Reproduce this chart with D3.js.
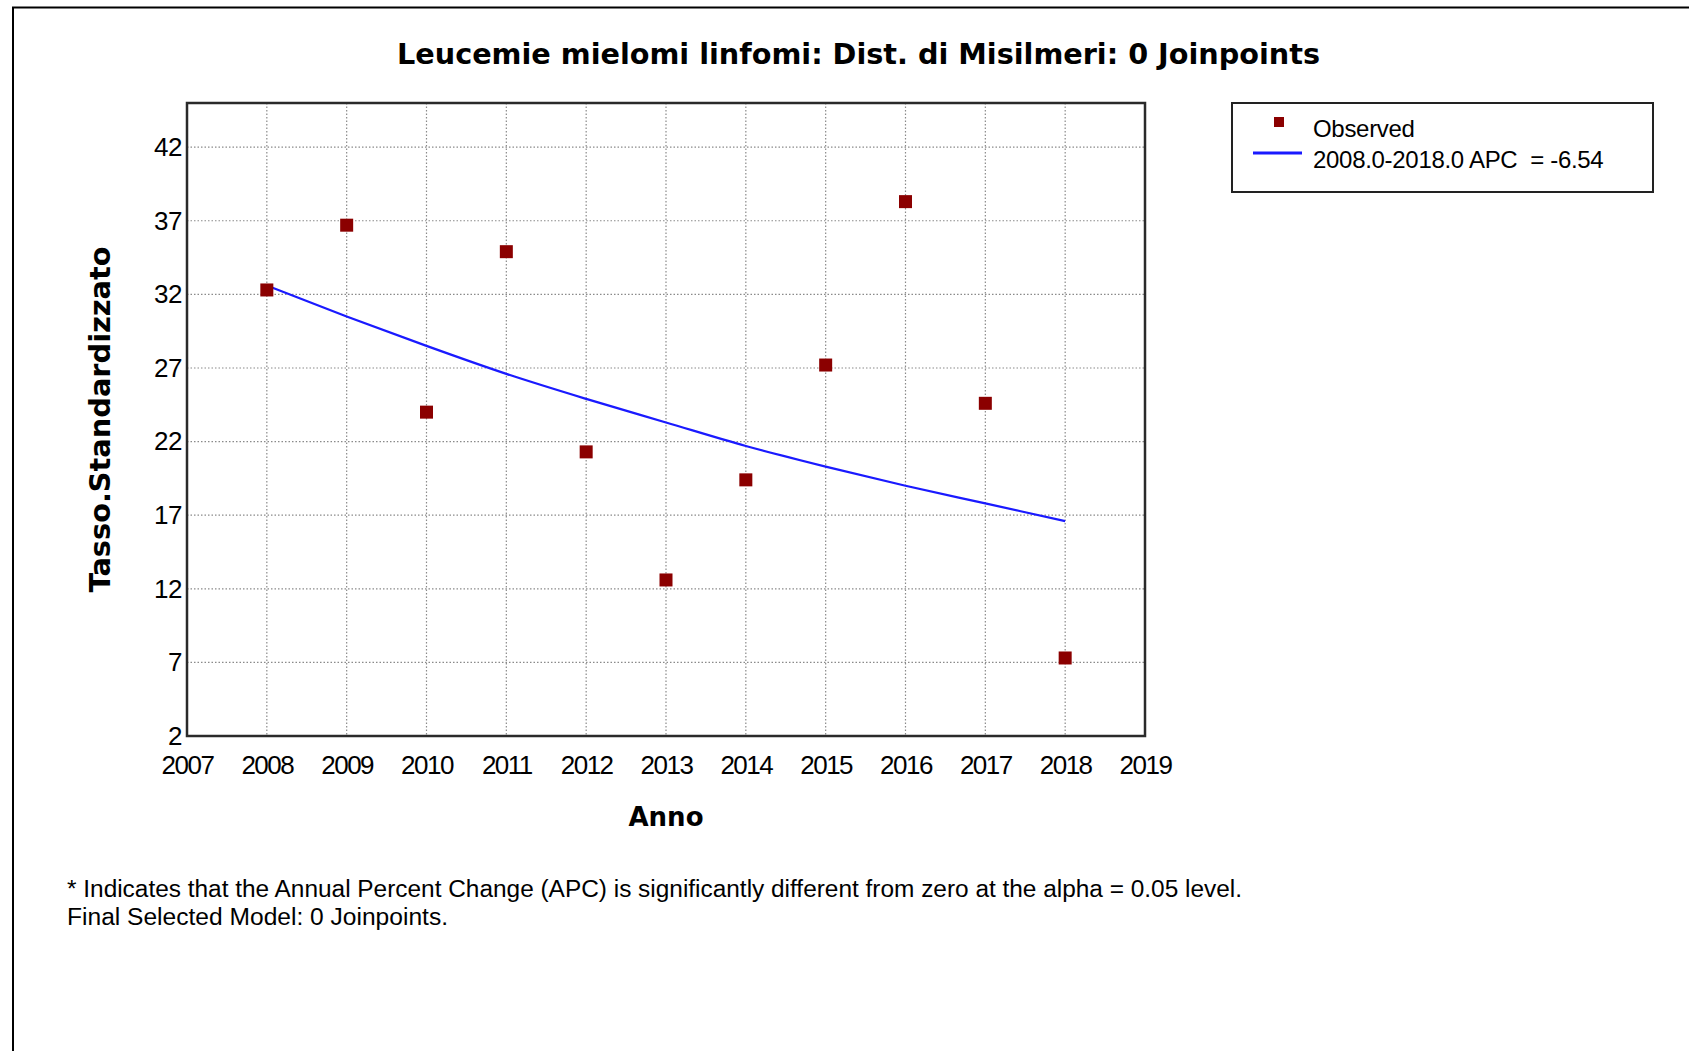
<!DOCTYPE html>
<html>
<head>
<meta charset="utf-8">
<script src="https://cdn.jsdelivr.net/npm/d3@7"></script>
<style>
  html, body { margin: 0; padding: 0; background: #fff; }
  svg { display: block; }
</style>
</head>
<body>
<svg id="chart" width="1689" height="1051"></svg>
<script>
// ---- Data ----
const years = [2008, 2009, 2010, 2011, 2012, 2013, 2014, 2015, 2016, 2017, 2018];
const observed = [32.3, 36.7, 24.0, 34.9, 21.3, 12.6, 19.4, 27.2, 38.3, 24.6, 7.3];
const fitted = [32.6, 30.5, 28.5, 26.6, 24.9, 23.3, 21.7, 20.3, 19.0, 17.8, 16.6];
const xTicks = [2007, 2008, 2009, 2010, 2011, 2012, 2013, 2014, 2015, 2016, 2017, 2018, 2019];
const yTicks = [2, 7, 12, 17, 22, 27, 32, 37, 42];
const titleText = "Leucemie mielomi linfomi: Dist. di Misilmeri: 0 Joinpoints";
const xLabel = "Anno";
const yLabel = "Tasso.Standardizzato";
const legendLabels = ["Observed", "2008.0-2018.0 APC  = -6.54"];
const footnotes = [
  "* Indicates that the Annual Percent Change (APC) is significantly different from zero at the alpha = 0.05 level.",
  "Final Selected Model: 0 Joinpoints."
];

// ---- Layout ----
const svg = d3.select("#chart");
const plot = { left: 187, right: 1145, top: 103, bottom: 736 };
const x = d3.scaleLinear().domain([2007, 2019]).range([plot.left, plot.right]);
const y = d3.scaleLinear().domain([2, 45]).range([plot.bottom, plot.top]);

// outer frame (top and left edges)
svg.append("path")
  .attr("d", `M13,1051 L13,7.5 L1689,7.5`)
  .attr("fill", "none").attr("stroke", "#000").attr("stroke-width", 2);

// title
svg.append("text")
  .attr("x", 397).attr("y", 64)
  .attr("textLength", 923).attr("lengthAdjust", "spacingAndGlyphs")
  .style("font-family", "'DejaVu Sans', Verdana, sans-serif")
  .style("font-weight", "bold").style("font-size", "28px")
  .attr("fill", "#000")
  .text(titleText);

// grid
const grid = svg.append("g").attr("class", "grid");
grid.selectAll("line.v").data(xTicks.filter(d => d > 2007 && d < 2019)).enter()
  .append("line").attr("class", "v")
  .attr("x1", d => x(d)).attr("x2", d => x(d))
  .attr("y1", plot.top).attr("y2", plot.bottom)
  .attr("stroke", "#8a8a8a").attr("stroke-width", 1.2).attr("stroke-dasharray", "1.5,2");
grid.selectAll("line.h").data(yTicks.filter(d => d > 2)).enter()
  .append("line").attr("class", "h")
  .attr("x1", plot.left).attr("x2", plot.right)
  .attr("y1", d => y(d)).attr("y2", d => y(d))
  .attr("stroke", "#8a8a8a").attr("stroke-width", 1.2).attr("stroke-dasharray", "1.5,2");

// axes (labels only)
const tickFont = "'Liberation Sans', Arial, sans-serif";
const xAxis = svg.append("g")
  .attr("transform", `translate(0,${plot.bottom})`)
  .call(d3.axisBottom(x).tickValues(xTicks).tickFormat(d3.format("d")).tickSize(0).tickPadding(38));
xAxis.select(".domain").remove();
xAxis.selectAll("text")
  .style("font-family", tickFont).style("font-size", "26px")
  .style("letter-spacing", "-1.5px").attr("fill", "#000").attr("dy", 0);

const yAxis = svg.append("g")
  .attr("transform", `translate(${plot.left},0)`)
  .call(d3.axisLeft(y).tickValues(yTicks).tickFormat(d3.format("d")).tickSize(0).tickPadding(5));
yAxis.select(".domain").remove();
yAxis.selectAll("text")
  .style("font-family", tickFont).style("font-size", "26px")
  .style("letter-spacing", "-0.5px").attr("fill", "#000").attr("dy", "0.32em");

// fitted line
const line = d3.line().x((d, i) => x(years[i])).y(d => y(d)).curve(d3.curveMonotoneX);
svg.append("path").datum(fitted)
  .attr("d", line)
  .attr("fill", "none").attr("stroke", "#1a1aff").attr("stroke-width", 2.2);

// observed points
const sz = 13;
svg.selectAll("rect.obs").data(observed).enter()
  .append("rect").attr("class", "obs")
  .attr("x", (d, i) => x(years[i]) - sz / 2)
  .attr("y", d => y(d) - sz / 2)
  .attr("width", sz).attr("height", sz)
  .attr("fill", "#8b0000");

// plot border
svg.append("rect")
  .attr("x", plot.left).attr("y", plot.top)
  .attr("width", plot.right - plot.left).attr("height", plot.bottom - plot.top)
  .attr("fill", "none").attr("stroke", "#2a2a2a").attr("stroke-width", 2.5);

// axis titles
svg.append("text")
  .attr("x", (plot.left + plot.right) / 2).attr("y", 826)
  .attr("text-anchor", "middle")
  .style("font-family", "'DejaVu Sans', Verdana, sans-serif")
  .style("font-weight", "bold").style("font-size", "26px")
  .attr("fill", "#000").text(xLabel);

svg.append("text")
  .attr("transform", `translate(110,${(plot.top + plot.bottom) / 2}) rotate(-90)`)
  .attr("text-anchor", "middle")
  .attr("textLength", 346).attr("lengthAdjust", "spacingAndGlyphs")
  .style("font-family", "'DejaVu Sans', Verdana, sans-serif")
  .style("font-weight", "bold").style("font-size", "28px")
  .attr("fill", "#000").text(yLabel);

// legend
const lg = svg.append("g");
lg.append("rect")
  .attr("x", 1232).attr("y", 103).attr("width", 421).attr("height", 89)
  .attr("fill", "#fff").attr("stroke", "#222").attr("stroke-width", 2);
lg.append("rect")
  .attr("x", 1274).attr("y", 117).attr("width", 10).attr("height", 10)
  .attr("fill", "#8b0000");
lg.append("line")
  .attr("x1", 1253).attr("x2", 1302).attr("y1", 153).attr("y2", 153)
  .attr("stroke", "#1a1aff").attr("stroke-width", 3);
lg.selectAll("text.lg").data(legendLabels).enter()
  .append("text").attr("class", "lg")
  .attr("x", 1313).attr("y", (d, i) => 137 + i * 30.5)
  .style("font-family", tickFont).style("font-size", "24px")
  .style("white-space", "pre").style("letter-spacing", "-0.3px")
  .attr("fill", "#000").text(d => d);

// footnotes
const fnWidths = [1175, 381];
svg.selectAll("text.fn").data(footnotes).enter()
  .append("text").attr("class", "fn")
  .attr("x", 67).attr("y", (d, i) => 897 + i * 28)
  .attr("textLength", (d, i) => fnWidths[i]).attr("lengthAdjust", "spacingAndGlyphs")
  .style("font-family", tickFont).style("font-size", "23px")
  .attr("fill", "#000").text(d => d);
</script>
</body>
</html>
